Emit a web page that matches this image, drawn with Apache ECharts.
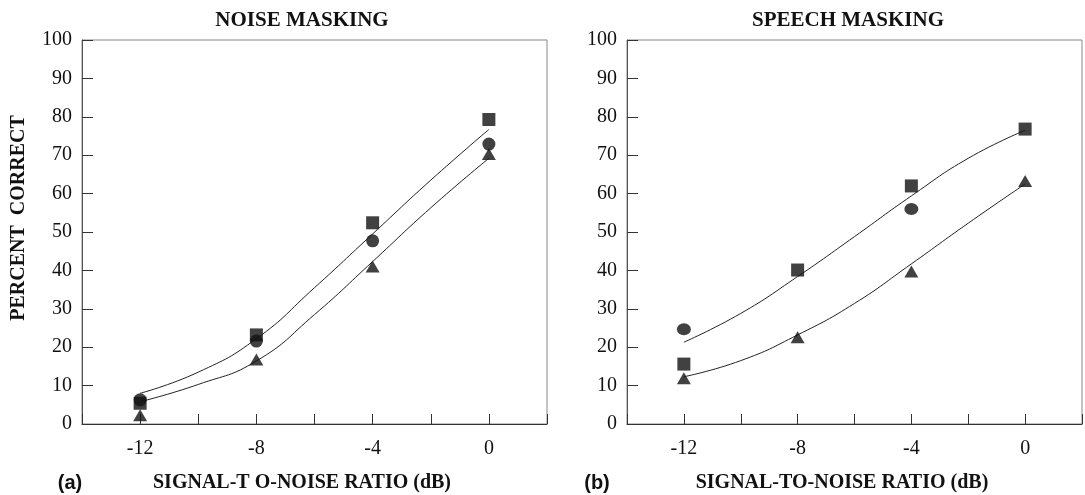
<!DOCTYPE html>
<html>
<head>
<meta charset="utf-8">
<script src="https://cdn.jsdelivr.net/npm/echarts@6/dist/echarts.min.js"></script>
<style>
  html, body { margin: 0; padding: 0; background: #fff; }
  #chart { width: 1085px; height: 495px; }
</style>
</head>
<body>
<div id="chart"></div>
<script>
// measured points (signal-to-noise ratio, dB)
let snr = [-12, -8, -4, 0];
let fitX = [-12, -10, -8, -6, -4, -2, 0];

// (a) noise masking, percent correct
let noiseSquare = [5.4, 23.2, 52.4, 79.3];
let noiseCircle = [6.3, 21.6, 47.7, 72.9];
let noiseTriangle = [2.3, 16.8, 41.0, 70.3];
let noiseUpperFit = [8.0, 13.5, 22.2, 35.5, 49.5, 63.5, 76.7];
let noiseLowerFit = [5.8, 10.3, 16.4, 28.5, 42.3, 56.3, 69.2];

// (b) speech masking, percent correct (circles hidden under squares at -8 and 0)
let speechSquare = [15.6, 40.1, 62.0, 76.8];
let speechCircle = [24.7, null, 56.0, null];
let speechTriangle = [11.9, 22.6, 39.7, 63.3];
let speechUpperFit = [21.3, 28.8, 38.4, 48.8, 59.4, 69.2, 76.5];
let speechLowerFit = [12.3, 16.5, 23.2, 31.4, 41.7, 52.3, 62.5];

let yTicks = [0, 10, 20, 30, 40, 50, 60, 70, 80, 90, 100];
let xLabels = [-12, -8, -4, 0];

let serif = '"Liberation Serif", "DejaVu Serif", serif';
let ink = '#111';

let pairs = (xs, ys) => xs.map((x, i) => [x, ys[i]]);

let xAxisFor = idx => ({
    type: 'value',
    gridIndex: idx,
    min: -14,
    max: 2,
    interval: 2,
    axisLine: { onZero: false, lineStyle: { color: '#333', width: 1 } },
    axisTick: { inside: true, length: 10, lineStyle: { color: '#333' } },
    axisLabel: {
        margin: 15,
        fontFamily: serif,
        fontSize: 20,
        color: ink,
        formatter: v => (xLabels.indexOf(v) >= 0 ? String(v) : '')
    },
    splitLine: { show: false }
});

let yAxisFor = idx => ({
    type: 'value',
    gridIndex: idx,
    min: yTicks[0],
    max: yTicks[yTicks.length - 1],
    interval: 10,
    axisLine: { show: true, onZero: false, lineStyle: { color: '#555', width: 1 } },
    axisTick: { show: true, inside: true, length: 11, lineStyle: { color: '#333' } },
    axisLabel: { margin: 10, fontFamily: serif, fontSize: 20, color: ink },
    splitLine: { show: false }
});

let marks = (idx, symbol, size, ys) => ({
    type: 'scatter',
    xAxisIndex: idx,
    yAxisIndex: idx,
    symbol: symbol,
    symbolSize: size,
    itemStyle: { color: ink },
    data: pairs(snr, ys).filter(p => p[1] !== null),
    z: 3
});

let fit = (idx, ys) => ({
    type: 'line',
    xAxisIndex: idx,
    yAxisIndex: idx,
    smooth: 0.5,
    symbol: 'none',
    lineStyle: { color: '#222', width: 1 },
    data: pairs(fitX, ys),
    z: 2
});

let txt = (text, x, y, extra) => ({
    type: 'text',
    x: x,
    y: y,
    rotation: (extra && extra.rotation) || 0,
    style: {
        text: text,
        font: (extra && extra.font) || ('bold 20px ' + serif),
        fill: ink,
        align: 'center',
        verticalAlign: 'middle'
    }
});

let option = {
    animation: false,
    backgroundColor: '#fff',
    grid: [
        { left: 82, top: 40, width: 465, height: 384, show: true, borderColor: '#888', borderWidth: 1, backgroundColor: 'transparent' },
        { left: 627, top: 40, width: 465, height: 384, show: true, borderColor: '#888', borderWidth: 1, backgroundColor: 'transparent' }
    ],
    xAxis: [xAxisFor(0), xAxisFor(1)],
    yAxis: [yAxisFor(0), yAxisFor(1)],
    series: [
        fit(0, noiseUpperFit),
        fit(0, noiseLowerFit),
        marks(0, 'triangle', [14, 12], noiseTriangle),
        marks(0, 'rect', [13, 13], noiseSquare),
        marks(0, 'circle', 13, noiseCircle),

        fit(1, speechUpperFit),
        fit(1, speechLowerFit),
        marks(1, 'circle', [14, 12], speechCircle),
        marks(1, 'rect', [13, 13], speechSquare),
        marks(1, 'triangle', [14, 12], speechTriangle)
    ],
    graphic: [
        txt('NOISE MASKING', 302, 21, { font: 'bold 21px ' + serif }),
        txt('SPEECH MASKING', 848, 21, { font: 'bold 21px ' + serif }),
        txt('PERCENT  CORRECT', 19, 218, { rotation: Math.PI / 2 }),
        txt('SIGNAL-T O-NOISE RATIO (dB)', 302, 483),
        txt('SIGNAL-TO-NOISE RATIO (dB)', 842, 483),
        txt('(a)', 70, 483, { font: 'bold 20px "Liberation Sans", Arial, sans-serif' }),
        txt('(b)', 597, 483, { font: 'bold 20px "Liberation Sans", Arial, sans-serif' })
    ]
};

let mychart = echarts.init(document.getElementById('chart'));
mychart.setOption(option);
</script>
</body>
</html>
